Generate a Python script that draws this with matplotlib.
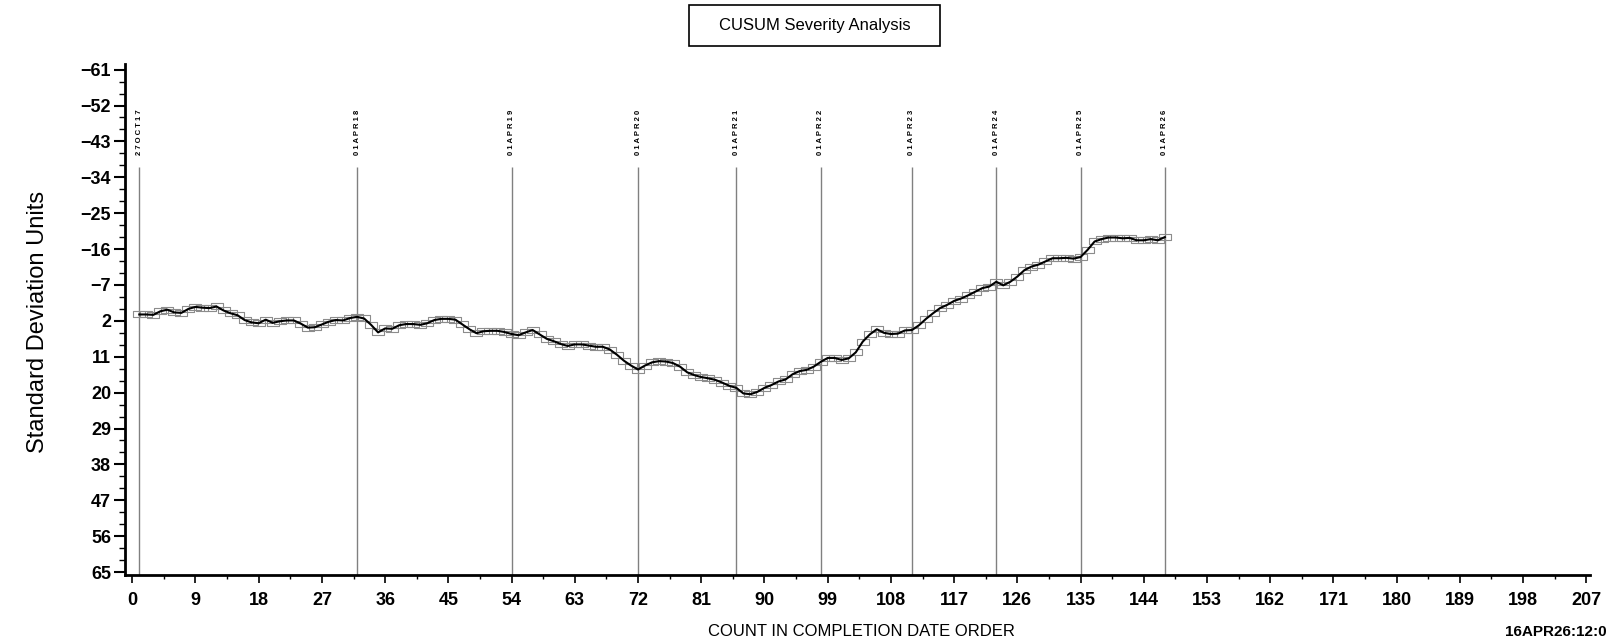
import numpy as np
import matplotlib
matplotlib.use("Agg")
import matplotlib.pyplot as plt
from matplotlib.patches import Rectangle

plt.rcParams['font.family'] = ['Liberation Sans', 'DejaVu Sans']

# cusum values, one per completed item (axis is inverted)
cusum = [0.4, 0.4, 0.5, -0.4, -0.8, -0.1, 0.0, -1.0, -1.5, -1.3,
         -1.2, -1.6, -0.6, 0.1, 0.6, 1.8, 2.4, 2.6, 1.7, 2.5,
         2.1, 1.9, 1.9, 2.7, 3.7, 3.6, 2.9, 2.2, 1.8, 1.9,
         1.3, 1.0, 1.4, 3.0, 4.9, 3.9, 4.0, 3.1, 2.8, 2.8,
         3.0, 2.6, 1.8, 1.5, 1.5, 1.7, 2.9, 4.1, 5.1, 4.6,
         4.5, 4.5, 4.8, 5.3, 5.6, 4.9, 4.3, 5.4, 6.5, 7.1,
         7.8, 8.3, 7.9, 7.9, 8.2, 8.5, 8.5, 9.2, 10.5, 12.0,
         13.2, 14.2, 13.2, 12.4, 12.1, 12.2, 12.6, 13.5, 14.9, 15.6,
         16.1, 16.4, 16.8, 17.5, 18.3, 18.8, 20.2, 20.4, 19.8, 18.8,
         18.1, 17.2, 16.7, 15.4, 14.6, 14.3, 13.5, 12.3, 11.3, 11.3,
         11.8, 11.4, 9.9, 7.2, 5.4, 4.1, 5.0, 5.3, 5.2, 4.4,
         4.3, 3.1, 1.5, 0.1, -1.2, -2.0, -3.0, -3.6, -4.4, -5.3,
         -6.2, -6.6, -7.8, -6.9, -7.8, -9.1, -10.7, -11.6, -12.1, -12.9,
         -13.7, -13.7, -13.8, -13.6, -14.0, -15.8, -17.9, -18.5, -18.9, -18.9,
         -18.7, -18.8, -18.2, -18.2, -18.5, -18.2, -19.0]
count = np.arange(1, len(cusum) + 1)

ref_pos = [1, 32, 54, 72, 86, 98, 111, 123, 135, 147]
ref_labels = ["27OCT17", "01APR18", "01APR19", "01APR20", "01APR21",
              "01APR22", "01APR23", "01APR24", "01APR25", "01APR26"]

yticks = np.arange(-61, 66, 9)
xticks = np.arange(0, 208, 9)

fig = plt.figure(figsize=(16.08, 6.44), dpi=100)
ax = fig.add_axes([0.0777, 0.1067, 0.911, 0.7945])

# reference date lines
ax.vlines(ref_pos, -36.5, 66, colors="#808080", lw=1)
for p, lab in zip(ref_pos, ref_labels):
    ax.text(p, -39.5, " ".join(lab), rotation=90, ha="center", va="bottom",
            fontsize=5.5, fontweight="bold")

rect = [(-1.2, -0.5), (1.2, -0.5), (1.2, 0.5), (-1.2, 0.5), (-1.2, -0.5)]
ax.plot(count, cusum, ls="none", marker=rect, ms=9, mfc="none",
        mec="#8c8c8c", mew=0.8)
ax.plot(count, cusum, color="black", lw=1.5)

ax.set_xlim(-1.04, 207.5)
ax.set_ylim(65.8, -62.5)
ax.set_yticks(yticks)
ax.set_yticklabels([str(v).replace("-", "\u2212") for v in yticks])
ax.set_xticks(xticks)
ax.set_yticks(np.arange(-61, 66, 3), minor=True)
ax.set_xticks(np.arange(0, 208, 4.5), minor=True)

for s in ["top", "right"]:
    ax.spines[s].set_visible(False)
for s in ["left", "bottom"]:
    ax.spines[s].set_linewidth(2)

ax.tick_params(axis="y", which="major", length=8, width=1.5, pad=2,
               labelsize=13)
ax.tick_params(axis="y", which="minor", length=4, width=1)
ax.tick_params(axis="x", which="major", length=6, width=1.2, pad=6,
               labelsize=13)
ax.tick_params(axis="x", which="minor", length=3, width=1)
for lab in ax.get_xticklabels() + ax.get_yticklabels():
    lab.set_fontweight("bold")

fig.text(38 / 1608, 1 - 322 / 644, "Standard Deviation Units", rotation=90,
         ha="center", va="center", fontsize=17)
fig.text(0.5355, 1 - 631 / 644, "COUNT IN COMPLETION DATE ORDER",
         ha="center", va="center", fontsize=12)
fig.text(1505 / 1608, 1 - 632 / 644, "16APR26:12:03", ha="left",
         va="center", fontsize=11, fontweight="bold")

fig.patches.append(Rectangle((689 / 1608, 1 - 46 / 644), 251 / 1608, 41 / 644,
                             transform=fig.transFigure, fill=False,
                             lw=1.2, ec="black"))
fig.text(814.5 / 1608, 1 - 25.5 / 644, "CUSUM Severity Analysis",
         ha="center", va="center", fontsize=12)

fig.savefig("out.png", dpi=100)
